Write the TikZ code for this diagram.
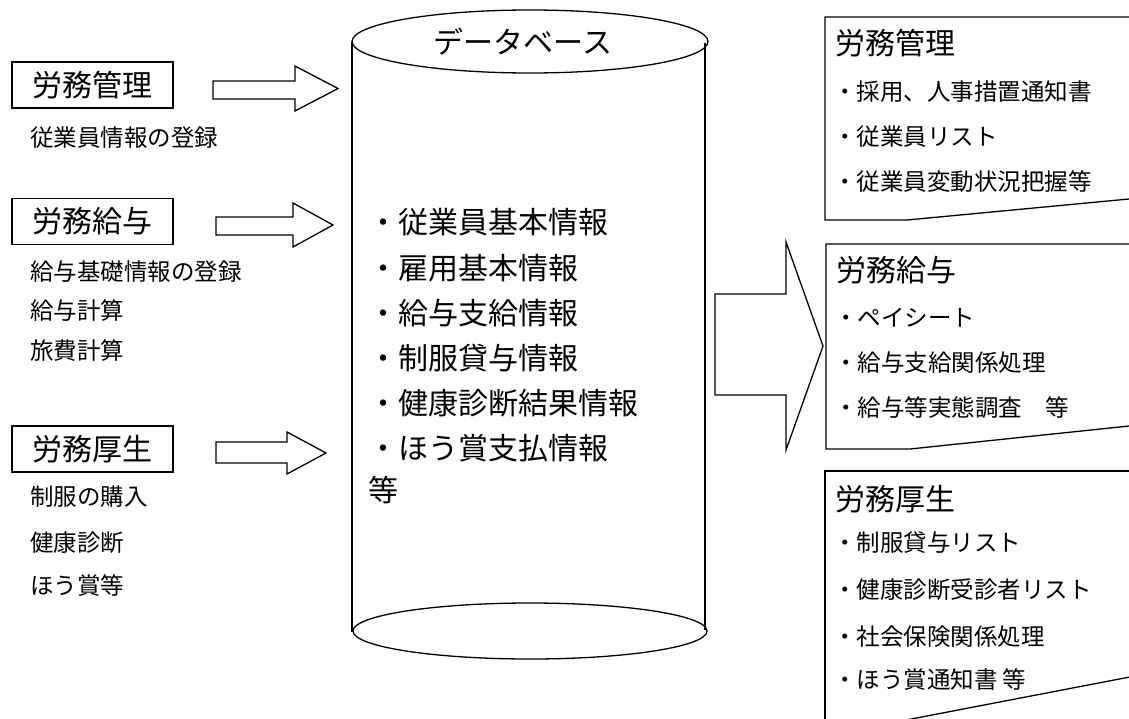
\documentclass[tikz,border=0pt]{standalone}
\usepackage{fontspec}
\setmainfont{Noto Sans CJK JP}
\newcommand\blockarr[8]{\draw[ln] (#1,#4) -- (#2,#4) -- (#2,#6) -- (#3,#8) -- (#2,#7) -- (#2,#5) -- (#1,#5) -- cycle;}
\tikzset{
  ln/.style={line width=1.3pt, line join=miter},
  big/.style={font=\fontsize{30}{36}\selectfont, inner sep=0pt, anchor=west, text height=26.4pt, text depth=3.6pt},
  sml/.style={font=\fontsize{23.5}{28}\selectfont, inner sep=0pt, anchor=west, text height=20.7pt, text depth=2.8pt},
  lbox/.style={draw, line width=1.3pt, minimum width=161pt, minimum height=46pt, inner sep=0pt, font=\fontsize{30}{36}\selectfont},
}
\begin{document}
\begin{tikzpicture}[x=1pt,y=-1pt]
\useasboundingbox (0,0) rectangle (1129,718);
\fill[white] (0,0) rectangle (1129,718);
\clip (0,0) rectangle (1129,718);

% left label boxes
\node[lbox] (b1) at (92.5,85) {労務管理};
\node[lbox] (b2) at (92.5,221.5) {労務給与};
\node[lbox] (b3) at (92.5,449) {労務厚生};

% left sub texts
\node[sml] (s1) at (30,138) {従業員情報の登録};
\node[sml] (s2) at (30,272) {給与基礎情報の登録};
\node[sml] (s3) at (30,311) {給与計算};
\node[sml] (s4) at (30,351) {旅費計算};
\node[sml] (s5) at (30,497) {制服の購入};
\node[sml] (s6) at (30,543) {健康診断};
\node[sml] (s7) at (30,586) {ほう賞等};

% block arrows
\blockarr{213}{295}{338}{81}{99}{66}{111}{88.5}
\blockarr{216}{293}{333}{217}{235}{203}{247}{225}
\blockarr{216}{287}{326}{442}{463}{432}{474}{453}
\blockarr{715}{786}{823}{294}{395}{242}{450}{346}

% cylinder
\draw[ln] (352,41.5) -- (352,632);
\draw[ln] (705,43) -- (705,630);
\draw[ln] (530,41.5) ellipse [x radius=178, y radius=31.5];
\draw[ln] (530,631) ellipse [x radius=177, y radius=28];
\node[big, anchor=center] (db) at (523,42) {データベース};

\node[big] (c1) at (368,222) {・従業員基本情報};
\node[big] (c2) at (368,268) {・雇用基本情報};
\node[big] (c3) at (368,313) {・給与支給情報};
\node[big] (c4) at (368,358) {・制服貸与情報};
\node[big] (c5) at (368,403) {・健康診断結果情報};
\node[big] (c6) at (368,448) {・ほう賞支払情報};
\node[big] (c7) at (368,490) {等};

% document shapes
\draw[ln] (1135,17) -- (825,17) -- (825,220) -- (907,220) -- (1129,199);
\draw[ln] (1135,244) -- (826,244) -- (826,449) -- (910,449) -- (1129,426);
\draw[ln] (1135,471) -- (825,471) -- (825,760);
\draw[ln] (1135,676) -- (880,725);

\node[big] (t1) at (835,43) {労務管理};
\node[sml] (t1a) at (833,92) {・採用、人事措置通知書};
\node[sml] (t1b) at (833,137) {・従業員リスト};
\node[sml] (t1c) at (833,182) {・従業員変動状況把握等};

\node[big] (t2) at (836,270) {労務給与};
\node[sml] (t2a) at (834,318) {・ペイシート};
\node[sml] (t2b) at (834,363) {・給与支給関係処理};
\node[sml] (t2c) at (834,408) {・給与等実態調査　等};

\node[big] (t3) at (835,499) {労務厚生};
\node[sml] (t3a) at (833,543) {・制服貸与リスト};
\node[sml] (t3b) at (833,590) {・健康診断受診者リスト};
\node[sml] (t3c) at (833,637) {・社会保険関係処理};
\node[sml] (t3d) at (833,680) {・ほう賞通知書 等};
\end{tikzpicture}
\end{document}
